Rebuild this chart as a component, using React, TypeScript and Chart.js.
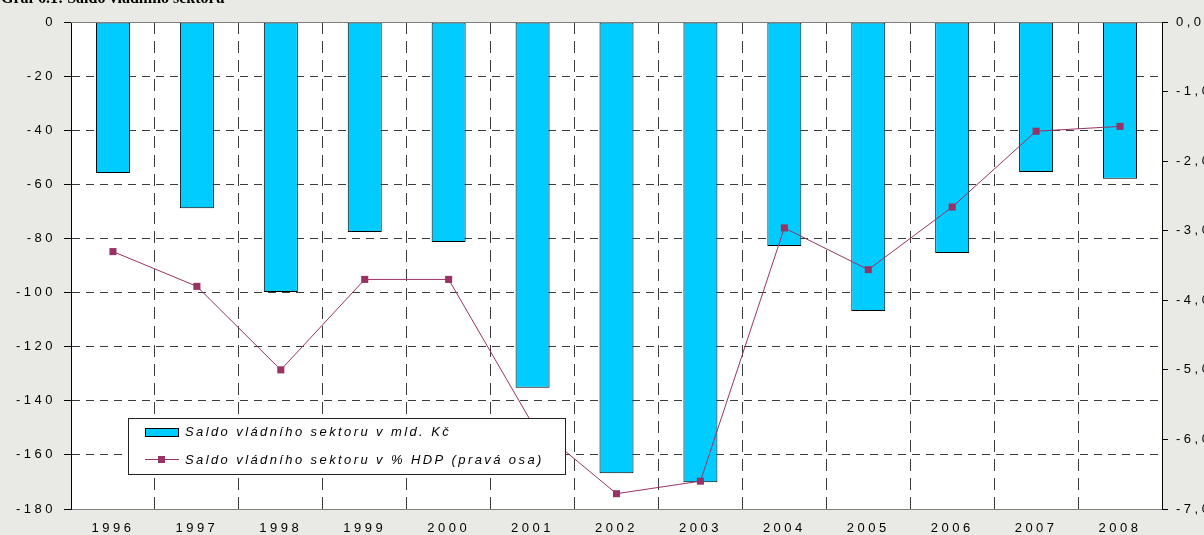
import React, { useEffect, useRef } from "react";
import { Chart, registerables } from "chart.js";

Chart.register(...registerables);

const years = ["1996", "1997", "1998", "1999", "2000", "2001", "2002", "2003", "2004", "2005", "2006", "2007", "2008"];
const saldoMld = [-55.8, -68.8, -99.8, -77.6, -81.3, -135.2, -166.8, -170.1, -82.8, -106.8, -85.4, -55.4, -57.9];
const saldoPctHdp = [-3.3, -3.8, -5.0, -3.7, -3.7, -5.78, -6.78, -6.6, -2.96, -3.56, -2.66, -1.57, -1.5];
const barLabel = "Saldo vládního sektoru v mld. Kč";
const lineLabel = "Saldo vládního sektoru v % HDP (pravá osa)";
const titleText = "Graf 6.1: Saldo vládního sektoru";

const FONT = "'Liberation Sans', Arial, sans-serif";
const BAR_COLOR = "#00CCFF";
const LINE_COLOR = "#993366";
const GRID = "#3c3c3c";

const customPlugin = {
  id: "customDecor",
  beforeDraw(chart: any) {
    const { ctx, chartArea, width, height } = chart;
    ctx.save();
    ctx.fillStyle = "#e9e9e6";
    ctx.fillRect(0, 0, width, height);
    ctx.fillStyle = "#ffffff";
    ctx.fillRect(chartArea.left, chartArea.top, chartArea.right - chartArea.left, chartArea.bottom - chartArea.top);
    ctx.restore();
    ctx.letterSpacing = "3.5px";
  },
  afterDraw(chart: any) {
    const { ctx, chartArea } = chart;
    ctx.save();
    // top frame line
    ctx.strokeStyle = "#808080";
    ctx.lineWidth = 1;
    ctx.beginPath();
    ctx.moveTo(chartArea.left, chartArea.top + 0.5);
    ctx.lineTo(chartArea.right, chartArea.top + 0.5);
    ctx.stroke();

    // legend box
    const bx = chartArea.left + 57;
    const by = 418;
    const bw = 437;
    const bh = 56;
    ctx.fillStyle = "#ffffff";
    ctx.fillRect(bx, by, bw, bh);
    ctx.strokeStyle = "#222";
    ctx.strokeRect(bx + 0.5, by + 0.5, bw, bh);

    const barDs = chart.data.datasets.find((d: any) => d.type === "bar");
    const lineDs = chart.data.datasets.find((d: any) => d.type === "line");

    // item 1 swatch
    ctx.fillStyle = barDs.backgroundColor;
    ctx.fillRect(bx + 17, by + 10, 34, 9);
    ctx.strokeStyle = "#000";
    ctx.strokeRect(bx + 17.5, by + 10.5, 33, 8);

    // item 2 line + marker
    ctx.strokeStyle = lineDs.borderColor;
    ctx.beginPath();
    ctx.moveTo(bx + 17, by + 41.5);
    ctx.lineTo(bx + 51, by + 41.5);
    ctx.stroke();
    ctx.fillStyle = lineDs.borderColor;
    ctx.fillRect(bx + 30, by + 38, 7, 7);

    ctx.letterSpacing = "2.4px";
    ctx.fillStyle = "#000";
    ctx.font = `italic 13px ${FONT}`;
    ctx.textBaseline = "middle";
    ctx.textAlign = "left";
    ctx.fillText(barDs.label, bx + 57, by + 14.5);
    ctx.fillText(lineDs.label, bx + 57, by + 42);

    // title (mostly cut off at top)
    ctx.letterSpacing = "0px";
    ctx.font = `bold 16px 'Liberation Serif', 'Times New Roman', serif`;
    ctx.textBaseline = "alphabetic";
    ctx.fillText(titleText, 1, 3);
    ctx.restore();
  },
};

export default function App() {
  const ref = useRef<HTMLCanvasElement | null>(null);
  useEffect(() => {
    if (!ref.current) return;
    const chart = new Chart(ref.current, {
      type: "bar",
      data: {
        labels: years,
        datasets: [
          {
            type: "line",
            label: lineLabel,
            data: saldoPctHdp,
            yAxisID: "y2",
            borderColor: LINE_COLOR,
            backgroundColor: LINE_COLOR,
            borderWidth: 1,
            pointStyle: "rect",
            pointRadius: 5,
            pointBorderWidth: 0,
            pointBackgroundColor: LINE_COLOR,
            tension: 0,
            order: 0,
          } as any,
          {
            type: "bar",
            label: barLabel,
            data: saldoMld,
            yAxisID: "y",
            backgroundColor: BAR_COLOR,
            borderColor: "#000",
            borderWidth: 1,
            borderSkipped: false,
            barPercentage: 0.405,
            categoryPercentage: 1,
            order: 1,
          } as any,
        ],
      },
      options: {
        animation: false,
        responsive: true,
        maintainAspectRatio: false,
        layout: { padding: { top: 22, left: 0, right: 0, bottom: 0 } },
        plugins: {
          legend: { display: false },
          tooltip: { enabled: false },
          title: { display: false },
        },
        scales: {
          x: {
            type: "category",
            offset: true,
            grid: {
              offset: true,
              drawTicks: false,
              color: (c: any) => (c.index === 0 || c.index >= years.length ? "transparent" : GRID),
              lineWidth: 1,
            },
            border: { display: true, color: "#808080", width: 1, dash: [12, 7] },
            ticks: {
              color: "#000",
              font: { family: FONT, size: 13 },
              padding: 12,
              maxRotation: 0,
              autoSkip: false,
            },
            afterFit: (s: any) => {
              s.height = 26;
            },
          },
          y: {
            type: "linear",
            position: "left",
            min: -180,
            max: 0,
            grid: {
              color: (c: any) => (c.tick && (c.tick.value === 0 || c.tick.value === -180) ? "transparent" : GRID),
              tickColor: "#000",
              tickLength: 7,
              lineWidth: 1,
            },
            border: { display: true, color: "#000", width: 1, dash: [8, 6] },
            ticks: {
              stepSize: 20,
              color: "#000",
              font: { family: FONT, size: 13 },
              padding: 8,
            },
            afterFit: (s: any) => {
              s.width = 71;
            },
          },
          y2: {
            type: "linear",
            position: "right",
            min: -7,
            max: 0,
            grid: {
              drawOnChartArea: false,
              tickColor: "#000",
              tickLength: 6,
            },
            border: { display: true, color: "#000", width: 1 },
            ticks: {
              stepSize: 1,
              color: "#000",
              font: { family: FONT, size: 13 },
              padding: 8,
              callback: (v: any) => (Math.abs(v) < 1e-9 ? "0,0" : Number(v).toFixed(1).replace(".", ",")),
            },
            afterFit: (s: any) => {
              s.width = 42;
            },
          },
        },
      },
      plugins: [customPlugin],
    });
    return () => chart.destroy();
  }, []);

  return (
    <div style={{ position: "fixed", left: 0, top: 0, width: 1204, height: 535 }}>
      <canvas ref={ref} />
    </div>
  );
}
